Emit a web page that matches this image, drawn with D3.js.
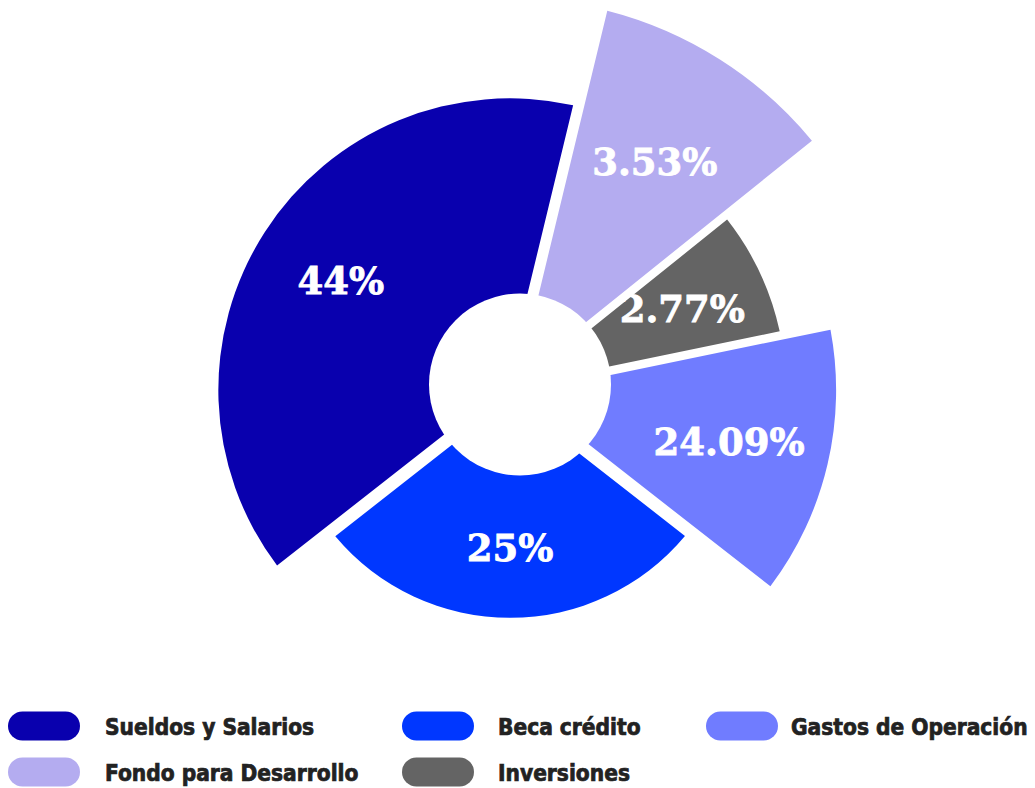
<!DOCTYPE html>
<html>
<head>
<meta charset="utf-8">
<script src="https://cdn.jsdelivr.net/npm/d3@7"></script>
<style>
  html, body { margin: 0; padding: 0; background: #fff; }
  svg { display: block; }
</style>
</head>
<body>
<svg id="chart" width="1035" height="788"></svg>
<script>
// slices, clockwise from the lower-left edge of "Sueldos"
const categories = ["Sueldos y Salarios", "Fondo para Desarrollo", "Inversiones", "Gastos de Operación", "Beca crédito"];
const labels = ["44%", "3.53%", "2.77%", "24.09%", "25%"];
// angular share of each slice (degrees) and its relative length (0-100)
const angleValues = [141.7, 37.65, 27.1, 49.65, 103.9];
const radiusValues = [74.5, 100, 70.5, 83.3, 58.2];
const colors = ["#0900ae", "#b4acf0", "#646464", "#707cff", "#0037ff"];
// order used by the legend
const legendOrder = [0, 4, 3, 1, 2];

const svg = d3.select("#chart");
const cx = 510, cy = 390;
const startDeg = -128.1;

const rScale = d3.scaleLinear().domain([0, 100]).range([0, 391.5]);
const gapHalf = [5.6, 5.4, 3.0, 5.6, 7.3];

const data = categories.map((c, i) => ({
  name: c, label: labels[i], angle: angleValues[i], r: radiusValues[i], color: colors[i], gap: gapHalf[i]
}));

const pie = d3.pie()
  .sort(null)
  .value(d => d.angle)
  .startAngle(startDeg * Math.PI / 180)
  .endAngle((startDeg + 360) * Math.PI / 180);

const arc = d3.arc()
  .innerRadius(60)
  .outerRadius(d => rScale(d.data.r))
  .padRadius(100)
  .padAngle(d => 2 * Math.asin(d.data.gap / 100));

const g = svg.append("g").attr("transform", `translate(${cx},${cy})`);
const arcs = pie(data);

g.selectAll("path.slice")
  .data(arcs)
  .join("path")
  .attr("class", "slice")
  .attr("d", arc)
  .attr("fill", d => d.data.color);

// centre hole
svg.append("circle")
  .attr("cx", 520)
  .attr("cy", 384.5)
  .attr("r", 91)
  .attr("fill", "#fff");

// value labels
const labelArc = d3.arc()
  .innerRadius(d => rScale(d.data.r) * 0.38)
  .outerRadius(d => rScale(d.data.r));

g.selectAll("text.val")
  .data(arcs)
  .join("text")
  .attr("class", "val")
  .attr("transform", d => `translate(${labelArc.centroid(d)})`)
  .attr("text-anchor", "middle")
  .attr("dy", "0.36em")
  .style("font-family", "'DejaVu Serif', serif")
  .style("font-weight", "bold")
  .style("font-size", "37px")
  .style("fill", "#fff")
  .style("stroke", "#fff")
  .style("stroke-width", "0.8px")
  .text(d => d.data.label);

// legend
const colX = [8, 402, 706];
const textX = [105, 498, 791];
const rowY = [711.5, 757.5];
const legend = svg.append("g");
legendOrder.forEach((idx, k) => {
  const col = k % 3, row = Math.floor(k / 3);
  legend.append("rect")
    .attr("x", colX[col])
    .attr("y", rowY[row])
    .attr("width", 72)
    .attr("height", 29)
    .attr("rx", 14.5)
    .attr("fill", colors[idx]);
  legend.append("text")
    .attr("x", textX[col])
    .attr("y", rowY[row] + 23.5)
    .style("font-family", "'DejaVu Sans Condensed', 'DejaVu Sans', sans-serif")
    .style("font-stretch", "condensed")
    .style("font-weight", "bold")
    .style("font-size", "22.5px")
    .style("fill", "#222")
    .style("stroke", "#222")
    .style("stroke-width", "0.7px")
    .text(categories[idx]);
});
</script>
</body>
</html>
